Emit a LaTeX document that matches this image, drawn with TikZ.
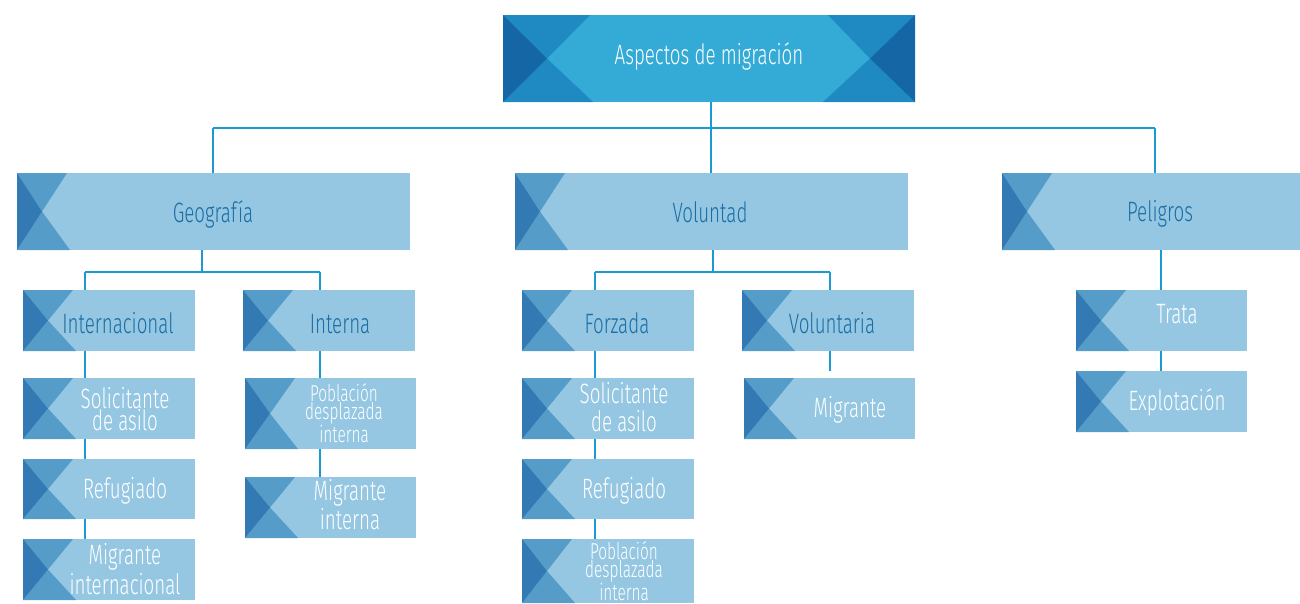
\documentclass[tikz,border=0pt]{standalone}
\usepackage{fontspec}
\setmainfont{Fira Sans Light}[FakeStretch=0.67]
\definecolor{topL}{HTML}{33ABD6}
\definecolor{topM}{HTML}{1F89C1}
\definecolor{topD}{HTML}{1467A4}
\definecolor{bL}{HTML}{95C7E3}
\definecolor{bM}{HTML}{559CC9}
\definecolor{bD}{HTML}{3379B3}
\definecolor{hdr}{HTML}{1A6EA5}
\definecolor{conn}{HTML}{1C9AD6}
\begin{document}
\begin{tikzpicture}[x=1pt,y=-1pt,
  box/.style 2 args={fill=bL, inner sep=0pt, outer sep=0pt, anchor=north west,
    minimum width=#1pt, minimum height=#2pt,
    path picture={
      \fill[bM] (path picture bounding box.north west) -- ([xshift=50pt]path picture bounding box.north west) -- ([xshift=25pt]path picture bounding box.west) -- cycle;
      \fill[bM] (path picture bounding box.south west) -- ([xshift=53pt]path picture bounding box.south west) -- ([xshift=25pt]path picture bounding box.west) -- cycle;
      \fill[bD] (path picture bounding box.north west) -- ([xshift=25pt]path picture bounding box.west) -- (path picture bounding box.south west) -- cycle;
    }},
  topbox/.style={fill=topL, inner sep=0pt, outer sep=0pt, anchor=north west,
    minimum width=412pt, minimum height=87pt,
    path picture={
      \fill[topM] (path picture bounding box.north west) -- ([xshift=87pt]path picture bounding box.north west) -- ([xshift=44pt]path picture bounding box.west) -- cycle;
      \fill[topM] (path picture bounding box.south west) -- ([xshift=90pt]path picture bounding box.south west) -- ([xshift=44pt]path picture bounding box.west) -- cycle;
      \fill[topD] (path picture bounding box.north west) -- ([xshift=44pt]path picture bounding box.west) -- (path picture bounding box.south west) -- cycle;
      \fill[topM] (path picture bounding box.north east) -- ([xshift=-87pt]path picture bounding box.north east) -- ([xshift=-45pt]path picture bounding box.east) -- cycle;
      \fill[topM] (path picture bounding box.south east) -- ([xshift=-92pt]path picture bounding box.south east) -- ([xshift=-45pt]path picture bounding box.east) -- cycle;
      \fill[topD] (path picture bounding box.north east) -- ([xshift=-45pt]path picture bounding box.east) -- (path picture bounding box.south east) -- cycle;
    }},
  hdrtxt/.style={text=hdr, inner sep=0pt, font=\fontsize{28}{28}\selectfont, anchor=base},
  lftxt/.style={text=white, inner sep=0pt, font=\fontsize{28}{28}\selectfont, anchor=base},
  mltxt/.style 2 args={text=white, inner sep=0pt, align=center, font=\fontsize{#1}{#2}\selectfont, anchor=center},
  conn/.style={draw=conn, line width=1.3pt}
]
\useasboundingbox (0,0) rectangle (1300,603);
\fill[white] (0,0) rectangle (1300,603);

% boxes
\node[topbox] (top) at (503,15) {};
\node[box={393}{77}] (geo) at (17,173) {};
\node[box={393}{77}] (vol) at (515,173) {};
\node[box={298}{77}] (pel) at (1002,173) {};

\node[box={172}{61}] (intl) at (23,290) {};
\node[box={172}{61}] (intn) at (243,290) {};
\node[box={172}{61}] (sol1) at (23,378) {};
\node[box={172}{60}] (ref1) at (23,459) {};
\node[box={172}{61}] (mig1) at (23,539) {};
\node[box={171}{71}] (pob1) at (245,378) {};
\node[box={171}{61}] (mig2) at (245,477) {};

\node[box={172}{61}] (forz) at (522,290) {};
\node[box={172}{61}] (volu) at (742,290) {};
\node[box={172}{61}] (sol2) at (522,378) {};
\node[box={172}{60}] (ref2) at (522,459) {};
\node[box={172}{64}] (pob2) at (522,539) {};
\node[box={171}{61}] (migr) at (744,378) {};

\node[box={171}{61}] (trata) at (1076,290) {};
\node[box={171}{61}] (expl) at (1076,371) {};

% texts
\node[lftxt] (top-t) at (709,64) {Aspectos de migración};
\node[hdrtxt] (geo-t) at (213,222) {Geografía};
\node[hdrtxt] (vol-t) at (710,222) {Voluntad};
\node[hdrtxt] (pel-t) at (1160,221) {Peligros};
\node[hdrtxt] (intl-t) at (118,333) {Internacional};
\node[hdrtxt] (intn-t) at (340,333) {Interna};
\node[hdrtxt] (forz-t) at (617,333) {Forzada};
\node[hdrtxt] (volu-t) at (832,333) {Voluntaria};
\node[mltxt={28}{21}] (sol1-t) at (125,409) {Solicitante\\de asilo};
\node[lftxt] (ref1-t) at (125,498) {Refugiado};
\node[mltxt={28}{30}] (mig1-t) at (125,569) {Migrante\\internacional};
\node[mltxt={23}{18}] (pob1-t) at (344,413) {Población\\desplazada\\interna};
\node[mltxt={28}{29}] (mig2-t) at (350,505) {Migrante\\interna};
\node[mltxt={28}{28}] (sol2-t) at (624,407) {Solicitante\\de asilo};
\node[lftxt] (ref2-t) at (624,498) {Refugiado};
\node[mltxt={23}{18}] (pob2-t) at (624,571) {Población\\desplazada\\interna};
\node[lftxt] (migr-t) at (850,417) {Migrante};
\node[lftxt] (trata-t) at (1177,323) {Trata};
\node[lftxt] (expl-t) at (1177,410) {Explotación};

% junction coordinates
\coordinate (j1) at (711,128);
\coordinate (jG) at (213,128);
\coordinate (jP) at (1155,128);
\coordinate (jg2) at (202,272);
\coordinate (cI) at (85,272);
\coordinate (cN) at (320,272);
\coordinate (jv2) at (713,272);
\coordinate (cF) at (595,272);
\coordinate (cV) at (830,272);
\coordinate (cVe) at (830,371);
\coordinate (cP) at (1161,250);

% connectors
\draw[conn] (j1 |- top.south) -- (j1);
\draw[conn] (jG) -- (jP);
\draw[conn] (jG) -- (jG |- geo.north);
\draw[conn] (j1) -- (j1 |- vol.north);
\draw[conn] (jP) -- (jP |- pel.north);

\draw[conn] (jg2 |- geo.south) -- (jg2);
\draw[conn] (cI) -- (cN);
\draw[conn] (cI) -- (cI |- intl.north);
\draw[conn] (cN) -- (cN |- intn.north);
\draw[conn] (cI |- intl.south) -- (cI |- sol1.north);
\draw[conn] (cI |- sol1.south) -- (cI |- ref1.north);
\draw[conn] (cI |- ref1.south) -- (cI |- mig1.north);
\draw[conn] (cN |- intn.south) -- (cN |- pob1.north);
\draw[conn] (cN |- pob1.south) -- (cN |- mig2.north);

\draw[conn] (jv2 |- vol.south) -- (jv2);
\draw[conn] (cF) -- (cV);
\draw[conn] (cF) -- (cF |- forz.north);
\draw[conn] (cV) -- (cV |- volu.north);
\draw[conn] (cF |- forz.south) -- (cF |- sol2.north);
\draw[conn] (cF |- sol2.south) -- (cF |- ref2.north);
\draw[conn] (cF |- ref2.south) -- (cF |- pob2.north);
\draw[conn] (cV |- volu.south) -- (cVe);

\draw[conn] (cP |- pel.south) -- (cP |- trata.north);
\draw[conn] (cP |- trata.south) -- (cP |- expl.north);
\end{tikzpicture}
\end{document}
